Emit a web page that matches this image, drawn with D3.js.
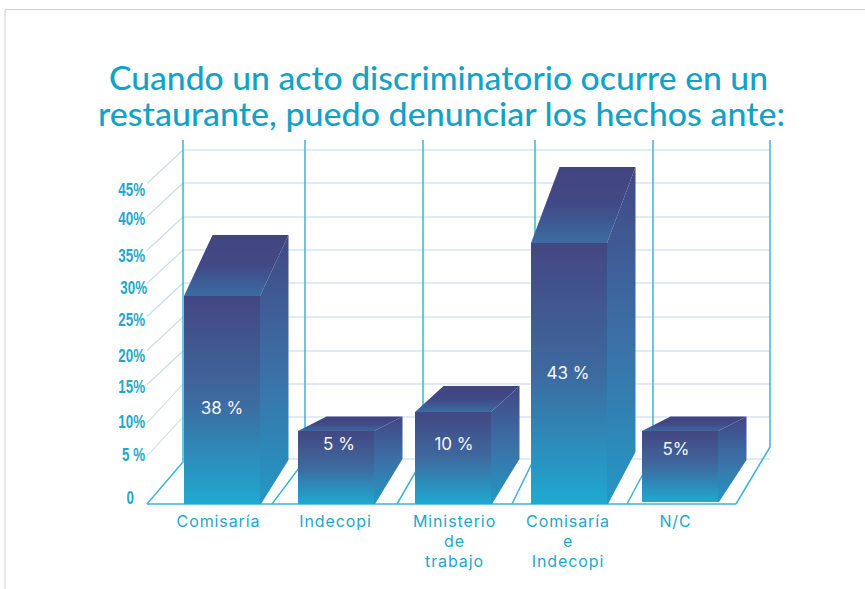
<!DOCTYPE html>
<html lang="es">
<head>
<meta charset="utf-8">
<title>Denuncia de actos discriminatorios</title>
<script src="https://cdn.jsdelivr.net/npm/d3@7/dist/d3.min.js"></script>
<style>
  html, body { margin: 0; padding: 0; background: #fff; }
  svg { display: block; }
</style>
</head>
<body>
<svg id="chart" width="865" height="589"></svg>
<script>
// Survey answers
const categories = ["Comisaría", "Indecopi", "Ministerio de trabajo", "Comisaría e Indecopi", "N/C"];
const values = [38, 5, 10, 43, 5];
const valueLabels = ["38 %", "5 %", "10 %", "43 %", "5%"];
const categoryLines = [["Comisaría"], ["Indecopi"], ["Ministerio", "de", "trabajo"], ["Comisaría", "e", "Indecopi"], ["N/C"]];
const yTicks = [0, 5, 10, 15, 20, 25, 30, 35, 40, 45];
const yTickLabels = ["0", "5 %", "10%", "15%", "20%", "25%", "30%", "35%", "40%", "45%"];
const titleLines = ["Cuando un acto discriminatorio ocurre en un", "restaurante, puedo denunciar los hechos ante:"];

const svg = d3.select("#chart");
const BLUE = "#3db2dc", TEXT = "#1fa6ca", GRID = "#d6e6ef", GRID_SIDE = "#cbdbe2";

// Drawn perspective: the front and the back edge of a bar rise at their own pace
const frontY = d3.scaleLinear().domain([0, 5, 10, 38, 43]).range([504, 431, 412, 296, 243]);
const backY = d3.scaleLinear().domain([0, 5, 10, 38, 43]).range([460, 416.5, 386, 235, 167]);
const barX = d3.scaleOrdinal().domain(categories).range([184, 298, 415, 531, 642]);
const labelX = d3.scaleOrdinal().domain(categories).range([218, 335, 454, 567.5, 675]);
const axisY = d3.scaleLinear().domain(yTicks).range([498, 455, 422, 387, 356, 320, 288, 256, 219, 190]);
const BAR_W = 76, DEPTH_X = 28.5;
const frontBase = [504, 504, 504, 504, 502];
const backBase = [460, 459, 459, 452, 460];

// Frame rule along the top and left edges
svg.append("path").attr("d", "M5,589V9.5H865").attr("fill", "none").attr("stroke", "#cfcfcf");

// Title
svg.append("g").selectAll("text").data(titleLines).join("text")
  .attr("x", (d, i) => [109, 98][i])
  .attr("y", (d, i) => [90, 126][i])
  .attr("textLength", (d, i) => [659, 687][i])
  .attr("lengthAdjust", "spacingAndGlyphs")
  .attr("font-family", "Lato, sans-serif")
  .attr("font-size", 33)
  .attr("font-weight", 500)
  .attr("fill", "#13a2c6")
  .text(d => d);

// Back wall and side wall gridlines
const gridY = [150, 183, 217, 250, 283, 317, 351, 384, 417, 459];
const grid = svg.append("g");
grid.selectAll("line.back").data(gridY).join("line").attr("class", "back")
  .attr("x1", 183).attr("x2", 770).attr("y1", d => d).attr("y2", d => d)
  .attr("stroke", GRID).attr("stroke-width", 1.4);
grid.selectAll("line.side").data(gridY.slice(0, 9)).join("line").attr("class", "side")
  .attr("x1", 183).attr("x2", 147).attr("y1", d => d)
  .attr("y2", (d, i) => gridY[i] + (i < 7 ? 33.5 : 39))
  .attr("stroke", GRID_SIDE).attr("stroke-width", 1.1);

// Wall posts with their floor dividers
const posts = [[183, 147, 462], [305, 272, 460], [423, 397, 459], [535, 512, 457], [653, 627, 455], [770, 736, 447]];
const frame = svg.append("g").attr("fill", "none").attr("stroke", BLUE).attr("stroke-width", 1.5);
frame.selectAll("path.post").data(posts).join("path").attr("class", "post")
  .attr("d", d => `M${d[0]},140V${d[2]}L${d[1]},504`);
frame.append("line").attr("x1", 147).attr("x2", 736).attr("y1", 504).attr("y2", 504);

// Vertical fills for the three visible faces of a bar
const defs = svg.append("defs");
function gradient(id, stops) {
  const g = defs.append("linearGradient").attr("id", id)
    .attr("x1", 0).attr("x2", 0).attr("y1", 0).attr("y2", 1);
  stops.forEach((c, i) => g.append("stop").attr("offset", i / (stops.length - 1)).attr("stop-color", c));
}
gradient("faceFront", ["#444682", "#3d6a9f", "#1fa9d1"]);
gradient("faceTop", ["#424480", "#414a86", "#396ea3"]);
gradient("faceSide", ["#424785", "#3b70a6", "#2398c4"]);

const rows = categories.map((name, i) => ({
  name, value: values[i], label: valueLabels[i], base: frontBase[i], back: backBase[i]
}));
const bars = svg.append("g").selectAll("g").data(rows).join("g");

// Top and side faces run a pixel under the front face so no seam shows
bars.append("path").attr("fill", "url(#faceTop)")
  .attr("d", d => {
    const x = barX(d.name), y = frontY(d.value);
    return `M${x},${y + 1}V${y}L${x + DEPTH_X},${backY(d.value)}H${x + DEPTH_X + BAR_W}L${x + BAR_W},${y}V${y + 1}Z`;
  });
bars.append("path").attr("fill", "url(#faceSide)")
  .attr("d", d => {
    const x = barX(d.name) + BAR_W, y = frontY(d.value);
    return `M${x - 1},${y}H${x}L${x + DEPTH_X},${backY(d.value)}V${d.back}L${x + 1},${d.base}H${x - 1}Z`;
  });
bars.append("rect").attr("fill", "url(#faceFront)")
  .attr("x", d => barX(d.name))
  .attr("y", d => frontY(d.value))
  .attr("width", BAR_W)
  .attr("height", d => d.base - frontY(d.value));

// Value labels sit inside the front face
const valueLabelPos = [[222, 414], [339, 450], [454, 450], [568, 379], [676, 455]];
bars.append("text")
  .attr("x", (d, i) => valueLabelPos[i][0])
  .attr("y", (d, i) => valueLabelPos[i][1])
  .attr("text-anchor", "middle")
  .attr("font-family", "Inter, sans-serif")
  .attr("font-size", 17)
  .attr("fill", "#f4f8fb")
  .text(d => d.label);

// Percentage axis, set in a condensed cut by squeezing the glyphs horizontally
const yAxis = svg.append("g").attr("transform", "translate(145,0)")
  .call(d3.axisLeft(axisY).tickValues(yTicks).tickSize(0).tickPadding(0)
    .tickFormat((d, i) => yTickLabels[i]));
yAxis.select(".domain").remove();
yAxis.selectAll("text")
  .attr("x", 0)
  .attr("font-family", "'Liberation Sans', sans-serif")
  .attr("font-size", 18.5)
  .attr("font-weight", 700)
  .attr("fill", "#22a6cb")
  .attr("transform", d => `translate(${d === 0 ? -11 : d === 30 ? 2 : 0},0) scale(0.72,1)`);

// Category axis, one tspan per line
const xAxis = svg.append("g").attr("transform", "translate(0,504)")
  .call(d3.axisBottom(labelX).tickSize(0).tickPadding(0));
xAxis.select(".domain").remove();
xAxis.selectAll("text").each(function (d, i) {
  d3.select(this).text(null)
    .attr("font-family", "Inter, sans-serif")
    .attr("font-size", 16)
    .attr("letter-spacing", 0.9)
    .attr("fill", TEXT)
    .attr("y", 0).attr("dy", null)
    .selectAll("tspan").data(categoryLines[i]).join("tspan")
    .attr("x", 0)
    .attr("y", (l, j) => 23 + j * 20)
    .text(l => l);
});
</script>
</body>
</html>
